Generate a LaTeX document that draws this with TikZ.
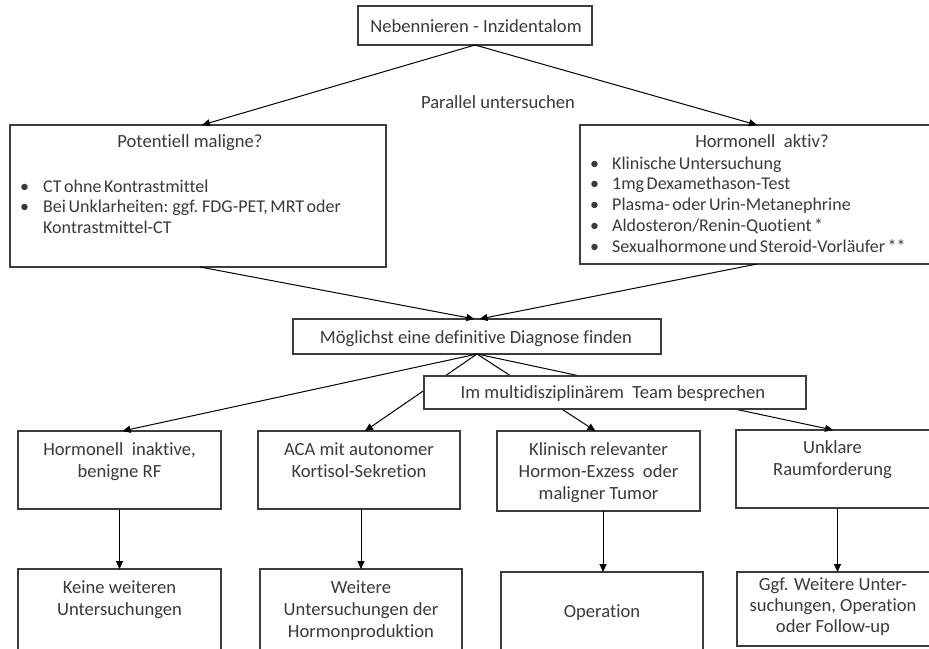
\documentclass[tikz,border=0pt]{standalone}
\usepackage{fontspec}
\setmainfont[Ligatures=CommonOff]{Carlito}
\usetikzlibrary{arrows.meta}
\definecolor{txt}{HTML}{3A3A3A}
\definecolor{bord}{HTML}{3C3C3C}
\newcommand{\lstfont}{\fontsize{18}{20.8}\selectfont\spaceskip=0.14em plus 0.05em\relax}
\begin{document}
\begin{tikzpicture}[x=1pt,y=-1pt,
  box/.style={draw=bord, line width=1.2pt, fill=white, inner sep=0, outer sep=0},
  lbl/.style={text=txt, font=\fontsize{18.6}{22}\selectfont, inner sep=0, anchor=north, align=center},
  lst/.style={text=txt, font=\lstfont, inner sep=0, anchor=north west, align=left},
  arr/.style={draw=black, line width=1pt, -{Triangle[length=8pt,width=7pt]}},
  ln/.style={draw=black, line width=1pt}]
\useasboundingbox (0,0) rectangle (929,648);
\fill[white] (0,0) rectangle (929,648);

% connectors behind boxes
\coordinate (dgL) at (474.5,319);
\coordinate (dgR) at (479.5,319);

\node[box, minimum width=234pt, minimum height=39pt] (top) at (475,25.5) {};
\node[box, minimum width=376pt, minimum height=142pt] (lft) at (198,196) {};
\node[box, minimum width=354pt, minimum height=139pt] (rgt) at (757,194.5) {};
\node[box, minimum width=368pt, minimum height=35pt] (dg) at (477,336.5) {};

\node[box, minimum width=203pt, minimum height=78pt] (A) at (119.5,470) {};
\node[box, minimum width=202pt, minimum height=78pt] (B) at (359,470) {};
\node[box, minimum width=203pt, minimum height=80pt] (C) at (598.5,471) {};
\node[box, minimum width=198pt, minimum height=78pt] (D) at (835,469) {};
\node[box, minimum width=203pt, minimum height=91pt] (E) at (119.5,614.5) {};
\node[box, minimum width=202pt, minimum height=91pt] (F) at (361,614.5) {};
\node[box, minimum width=202pt, minimum height=88pt] (G) at (602,616) {};
\node[box, minimum width=197pt, minimum height=74pt] (H) at (835.5,609) {};

\draw[arr] (top.south) -- ([xshift=4pt]lft.north);
\draw[arr] (top.south) -- (rgt.north);
\draw[arr] ([xshift=2pt]lft.south) -- (dgL);
\draw[arr] (rgt.south) -- (dgR);

\draw[arr] (dg.south) -- ([xshift=3pt]A.north);
\draw[arr] (dg.south) -- ([xshift=6pt]B.north);
\draw[arr] (dg.south) -- ([xshift=-3pt]C.north);
\draw[arr] (dg.south) -- ([xshift=-2pt]D.north);

\node[box, minimum width=382pt, minimum height=33pt] (team) at (615,392.5) {};

\draw[arr] (A.south) -- (E.north);
\draw[arr] (F.north |- B.south) -- (F.north);
\draw[arr] ([xshift=1pt]G.north |- C.south) -- ([xshift=1pt]G.north);
\draw[arr] ([xshift=2pt]H.north |- D.south) -- ([xshift=2pt]H.north);

% texts (anchor north = baseline - 0.7*baselineskip)
\node[lbl] (ttop) at (476,16.6) {\strut Nebennieren - Inzidentalom};
\node[lbl] (tpar) at (498,92.6) {\strut Parallel untersuchen};
\node[lbl] (tlft) at (190,131.6) {\strut Potentiell maligne?};
\node[lst] (llst) at (20,177.4) {\strut\makebox[23pt][l]{\textbullet}CT ohne Kontrastmittel\\
\makebox[23pt][l]{\textbullet}Bei Unklarheiten: ggf. FDG-PET, MRT oder\\
\hspace*{23pt}Kontrastmittel-CT};
\node[lbl] (trgt) at (762,131.6) {\strut Hormonell\ \ aktiv?};
\node[lst] (rlst) at (590,154.4) {\strut\makebox[22pt][l]{\textbullet}Klinische Untersuchung\\
\makebox[22pt][l]{\textbullet}1mg Dexamethason-Test\\
\makebox[22pt][l]{\textbullet}Plasma- oder Urin-Metanephrine\\
\makebox[22pt][l]{\textbullet}Aldosteron/Renin-Quotient *\\
\makebox[22pt][l]{\textbullet}Sexualhormone und Steroid-Vorläufer **};
\node[lbl] (tdg) at (476,327.6) {\strut Möglichst eine definitive Diagnose finden};
\node[lbl] (tteam) at (613,382.6) {\strut Im multidisziplinärem\ \ Team besprechen};

\node[lbl] (tA) at (119.5,439.6) {\strut Hormonell\ \ inaktive,\\benigne RF};
\node[lbl] (tB) at (359,439.6) {\strut ACA mit autonomer\\Kortisol-Sekretion};
\node[lbl] (tC) at (598.5,439.6) {\strut Klinisch relevanter\\Hormon-Exzess\ \ oder\\maligner Tumor};
\node[lbl] (tD) at (832.5,437.6) {\strut Unklare\\Raumforderung};
\node[lbl] (tE) at (119.5,577.6) {\strut Keine weiteren\\Untersuchungen};
\node[lbl] (tF) at (361,577.6) {\strut Weitere\\Untersuchungen der\\Hormonproduktion};
\node[lbl] (tG) at (602,601.6) {\strut Operation};
\node[lbl, font=\fontsize{18.6}{21}\selectfont] (tH) at (833,575.3) {\strut Ggf. Weitere Unter-\\suchungen, Operation\\oder Follow-up};
\end{tikzpicture}
\end{document}
